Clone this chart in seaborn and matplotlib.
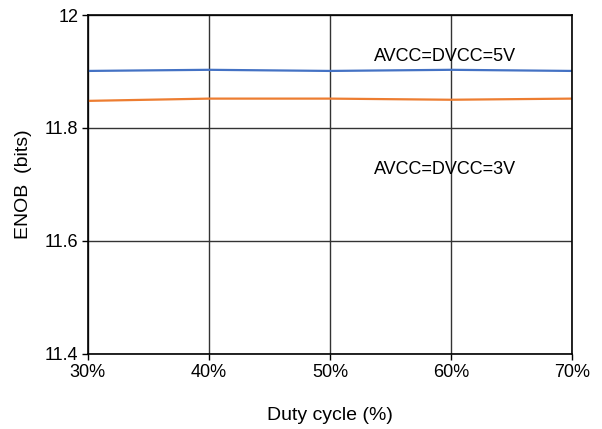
import matplotlib
matplotlib.use("Agg")
import matplotlib.pyplot as plt
import seaborn as sns
import pandas as pd

duty = [30, 40, 50, 60, 70]
enob_5v = [11.901, 11.903, 11.901, 11.903, 11.901]
enob_3v = [11.848, 11.852, 11.852, 11.850, 11.852]
xticks = [30, 40, 50, 60, 70]
xticklabels = ["30%", "40%", "50%", "60%", "70%"]
yticks = [11.4, 11.6, 11.8, 12.0]
yticklabels = ["11.4", "11.6", "11.8", "12"]

sns.set_theme(style="white")
plt.rcParams['font.family'] = ['Liberation Sans', 'DejaVu Sans']

df = pd.DataFrame({
    "duty": duty * 2,
    "enob": enob_5v + enob_3v,
    "series": ["AVCC=DVCC=5V"] * 5 + ["AVCC=DVCC=3V"] * 5,
})

fig = plt.figure(figsize=(6.02, 4.29), dpi=100)
ax = fig.add_axes([0.146, 0.175, 0.804, 0.790])
sns.lineplot(data=df, x="duty", y="enob", hue="series",
             palette={"AVCC=DVCC=5V": "#4472C4", "AVCC=DVCC=3V": "#ED7D31"},
             linewidth=1.6, legend=False, ax=ax)

ax.set_xlim(30, 70)
ax.set_ylim(11.4, 12.0)
ax.set_xticks(xticks)
ax.set_xticklabels(xticklabels)
ax.set_yticks(yticks)
ax.set_yticklabels(yticklabels)
ax.grid(True, color="#333333", linewidth=1.0)
ax.set_axisbelow(True)
for s in ax.spines.values():
    s.set_color("#000000")
    s.set_linewidth(1.2)
ax.tick_params(axis="both", labelsize=13, colors="#000000", labelcolor="#000000",
               length=4, width=1, direction="out", pad=3)
ax.tick_params(left=True, bottom=True)
ax.set_xlabel("Duty cycle (%)", fontsize=14, labelpad=19, color="#000000")
ax.set_ylabel("ENOB  (bits)", fontsize=14, labelpad=9, color="#000000")

ax.text(59.5, 11.926, "AVCC=DVCC=5V", ha="center", va="center", fontsize=13, color="#000000")
ax.text(59.5, 11.726, "AVCC=DVCC=3V", ha="center", va="center", fontsize=13, color="#000000")

fig.savefig("out.png", dpi=100)
